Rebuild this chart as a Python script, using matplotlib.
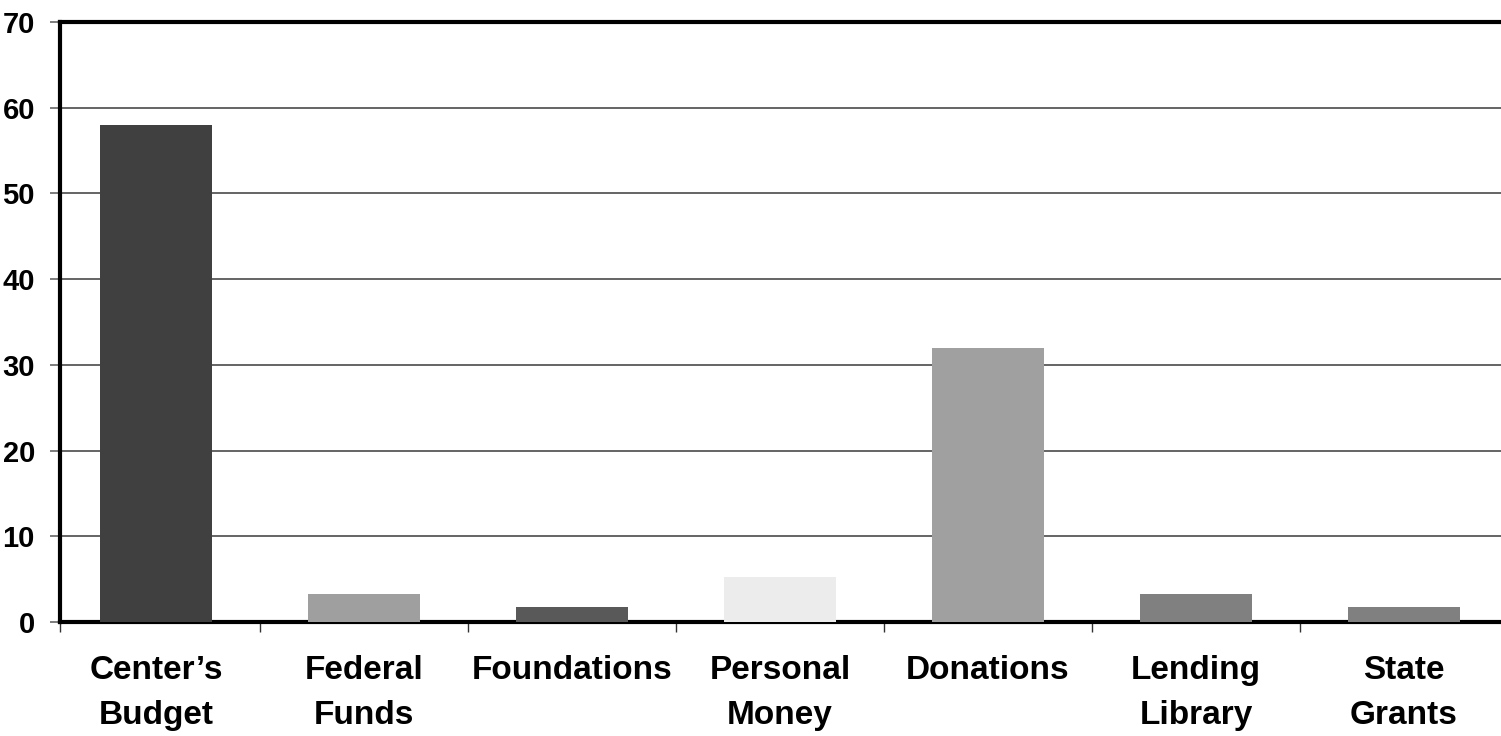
import numpy as np
import matplotlib
matplotlib.use("Agg")
import matplotlib.pyplot as plt
from matplotlib import font_manager

# data
categories = ["Center\u2019s\nBudget", "Federal\nFunds", "Foundations", "Personal\nMoney",
              "Donations", "Lending\nLibrary", "State\nGrants"]
values = [58.0, 3.3, 1.8, 5.2, 32.0, 3.3, 1.8]
bar_colors = ["#404040", "#9f9f9f", "#595959", "#ececec", "#a0a0a0", "#808080", "#808080"]
y_ticks = [0, 10, 20, 30, 40, 50, 60, 70]

names = {f.name for f in font_manager.fontManager.ttflist}
fam = ["Liberation Sans Narrow", "DejaVu Sans"] if "Liberation Sans Narrow" in names else ["Liberation Sans", "DejaVu Sans"]
plt.rcParams['font.family'] = fam

W, H = 1501, 736
fig = plt.figure(figsize=(W / 100, H / 100), dpi=100)
ax = fig.add_axes([60 / W, (H - 622) / H, (1508 - 60) / W, (622 - 22) / H])

x = np.arange(len(categories))
ax.bar(x, values, width=112 / 208, color=bar_colors, zorder=3)

ax.set_ylim(0, 70)
ax.set_xlim(-96 / 208, 6.5)
ax.set_yticks(y_ticks)
ax.set_yticklabels([str(t) for t in y_ticks], fontsize=21, fontweight='bold')
ax.yaxis.grid(True, color='#4a4a4a', linewidth=1.2, zorder=0)
ax.set_axisbelow(True)

ax.set_xticks(x)
ax.set_xticklabels(categories, fontsize=24, fontweight='bold', linespacing=1.55)
ax.set_xticks(list(np.arange(0.5, 6.0, 1.0)) + [-96 / 208 + 0.001], minor=True)
ax.tick_params(axis='x', which='major', length=0, pad=24)
ax.tick_params(axis='x', which='minor', length=7, width=1, color='#333333', direction='out')
ax.tick_params(axis='y', length=7, width=1.2, color='#666666', pad=11)

for s in ['left', 'top', 'bottom']:
    ax.spines[s].set_linewidth(3)
    ax.spines[s].set_color('black')
ax.spines['right'].set_visible(False)

fig.savefig("out.png", dpi=100)
